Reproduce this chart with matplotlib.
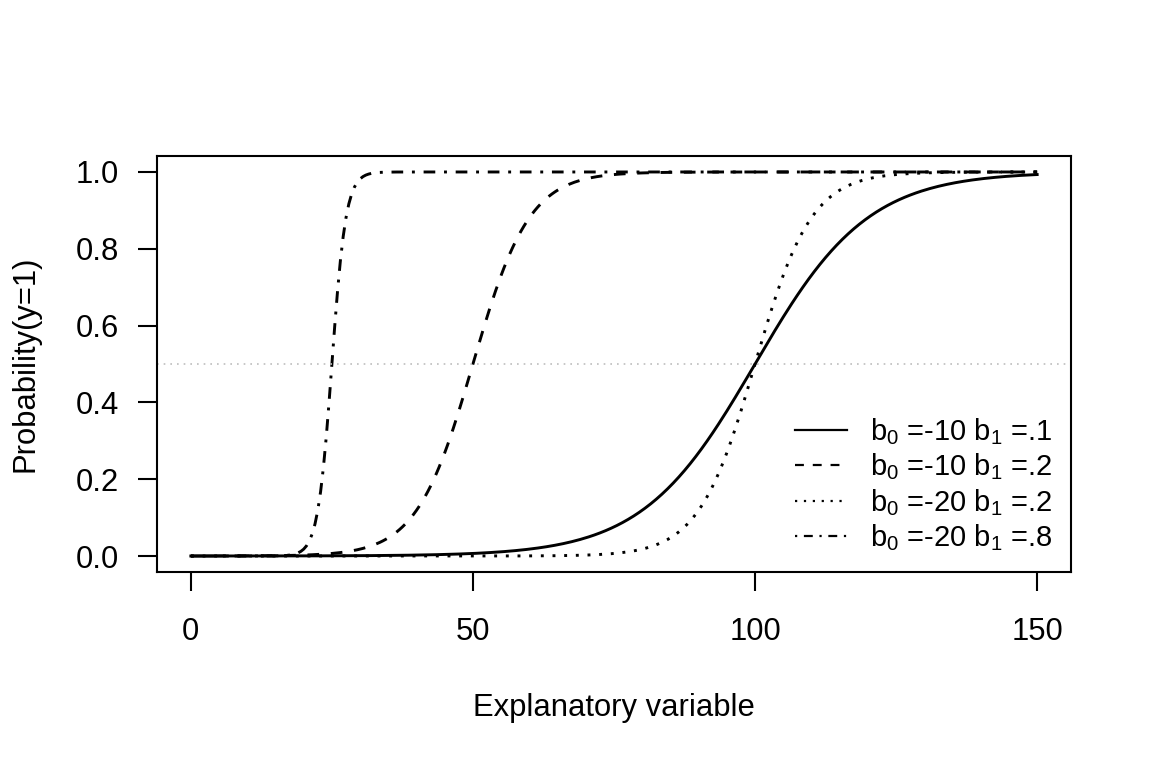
import numpy as np
import matplotlib
matplotlib.use("Agg")
import matplotlib.pyplot as plt

plt.rcParams['font.family'] = ['Liberation Sans', 'DejaVu Sans']
plt.rcParams['mathtext.fontset'] = 'custom'
plt.rcParams['mathtext.rm'] = 'Liberation Sans'
plt.rcParams['mathtext.it'] = 'Liberation Sans:italic'

# model parameters, as given in the legend
b0 = [-10, -10, -20, -20]
b1 = [0.1, 0.2, 0.2, 0.8]
labels = [r'$\mathrm{b_0}$ =-10 $\mathrm{b_1}$ =.1',
          r'$\mathrm{b_0}$ =-10 $\mathrm{b_1}$ =.2',
          r'$\mathrm{b_0}$ =-20 $\mathrm{b_1}$ =.2',
          r'$\mathrm{b_0}$ =-20 $\mathrm{b_1}$ =.8']
styles = ['-', (0, (4, 4)), (0, (1, 3)), (0, (1, 3, 4, 3))]
x = np.linspace(0, 150, 301)

fs = 22.3
fig = plt.figure(figsize=(11.52, 7.68), dpi=100)
ax = fig.add_axes([157/1152, 1-572/768, 914/1152, 416/768])

for a, b, lab, ls in zip(b0, b1, labels, styles):
    p = 1 / (1 + np.exp(-(a + b * x)))
    ax.plot(x, p, color='black', lw=2.1, linestyle=ls, label=lab)

ax.axhline(0.5, color='#bebebe', lw=1.2, linestyle=(0, (1, 3)))

ax.set_xlim(-6, 156)
ax.set_ylim(-0.0416, 1.0416)
ax.set_xticks([0, 50, 100, 150])
ax.set_yticks([0.0, 0.2, 0.4, 0.6, 0.8, 1.0])
ax.set_yticklabels(['0.0', '0.2', '0.4', '0.6', '0.8', '1.0'])
ax.tick_params(direction='out', length=13.5, width=1.5, labelsize=fs)
ax.tick_params(axis='x', pad=19)
ax.tick_params(axis='y', pad=14)
for s in ax.spines.values():
    s.set_linewidth(1.5)

ax.set_xlabel('Explanatory variable', fontsize=fs, va='center')
ax.xaxis.set_label_coords(0.5, -0.327)
ax.set_ylabel('Probability(y=1)', fontsize=fs, va='center')
ax.yaxis.set_label_coords(-0.144, 0.5)

leg = ax.legend(loc='center left', bbox_to_anchor=(0.698, 0.21), frameon=False,
                fontsize=21, borderpad=0, borderaxespad=0, handlelength=1.78,
                handletextpad=0.8, labelspacing=0.15)
for h in leg.get_lines():
    h.set_linewidth(1.6)

fig.savefig('out.png', dpi=100)
